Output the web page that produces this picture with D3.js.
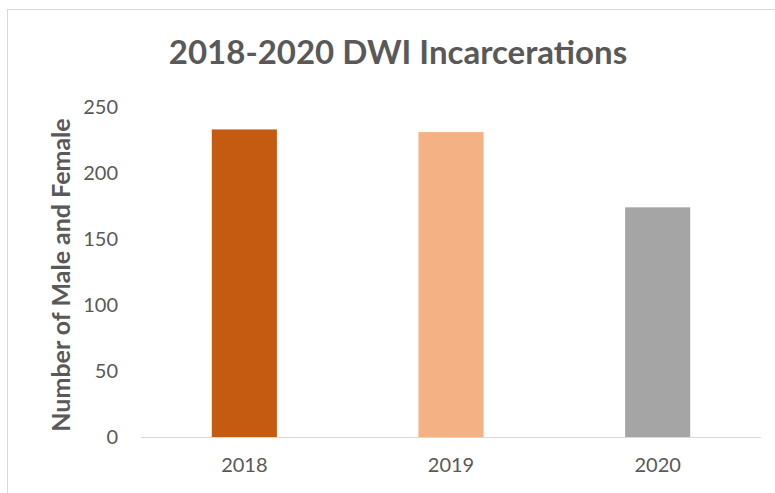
<!DOCTYPE html>
<html>
<head>
<meta charset="utf-8">
<script src="https://cdn.jsdelivr.net/npm/d3@7"></script>
<style>
  html, body { margin: 0; padding: 0; background: #fff; }
  svg { display: block; }
</style>
</head>
<body>
<svg id="chart" width="775" height="493"></svg>
<script>
// DWI incarcerations per year (male and female combined)
const years = ["2018", "2019", "2020"];
const counts = [233, 231, 174];
const barColors = ["#C55A11", "#F4B183", "#A5A5A5"];
const yTicks = [0, 50, 100, 150, 200, 250];

const svg = d3.select("#chart");
const W = 775, H = 493;
const margin = { top: 107, right: 14, bottom: 56, left: 141 };
const font = "Lato, 'Open Sans', sans-serif";
const textColor = "#595959";

// chart frame
svg.append("rect")
  .attr("x", 7.5).attr("y", 9.5)
  .attr("width", W + 20).attr("height", H + 20)
  .attr("fill", "#fff").attr("stroke", "#d9d9d9").attr("stroke-width", 1);

const x = d3.scaleBand()
  .domain(years)
  .range([margin.left, W - margin.right])
  .paddingInner(0.685)
  .paddingOuter(0.3425);

const y = d3.scaleLinear()
  .domain([0, 250])
  .range([H - margin.bottom, margin.top]);

// bars
svg.append("g").selectAll("rect")
  .data(years)
  .join("rect")
  .attr("x", d => x(d))
  .attr("y", (d, i) => y(counts[i]))
  .attr("width", x.bandwidth())
  .attr("height", (d, i) => y(0) - y(counts[i]))
  .attr("fill", (d, i) => barColors[i]);

// baseline
svg.append("line")
  .attr("x1", margin.left).attr("x2", W - margin.right)
  .attr("y1", y(0) + 0.5).attr("y2", y(0) + 0.5)
  .attr("stroke", "#d9d9d9").attr("stroke-width", 1);

// y axis (labels only)
const yAxis = d3.axisLeft(y).tickValues(yTicks).tickSize(0).tickPadding(0);
const gy = svg.append("g")
  .attr("transform", `translate(${margin.left - 23},0)`)
  .call(yAxis);
gy.select(".domain").remove();
gy.selectAll("text")
  .attr("fill", textColor)
  .style("font-family", font)
  .style("font-size", "20px");

// x axis (labels only)
const xAxis = d3.axisBottom(x).tickSize(0).tickPadding(0);
const gx = svg.append("g")
  .attr("transform", `translate(0,${y(0) + 21})`)
  .call(xAxis);
gx.select(".domain").remove();
gx.selectAll("text")
  .attr("fill", textColor)
  .style("font-family", font)
  .style("font-size", "20px");

// title
svg.append("text")
  .attr("x", 398).attr("y", 64)
  .attr("text-anchor", "middle")
  .attr("fill", textColor)
  .style("font-family", font)
  .style("font-weight", "bold")
  .style("font-size", "33px")
  .text("2018-2020 DWI Incarcerations");

// y axis title
svg.append("text")
  .attr("transform", "translate(70,275) rotate(-90)")
  .attr("text-anchor", "middle")
  .attr("fill", textColor)
  .style("font-family", font)
  .style("font-weight", "bold")
  .style("font-size", "25px")
  .text("Number of Male and Female");
</script>
</body>
</html>
